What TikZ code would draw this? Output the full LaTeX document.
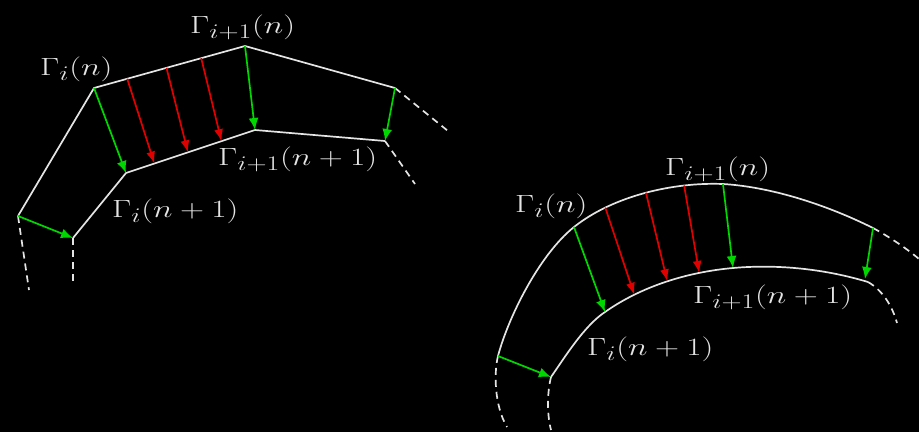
\documentclass[tikz,border=0pt]{standalone}
\usepackage{graphicx}
\usetikzlibrary{arrows.meta,calc}
\definecolor{ln}{RGB}{228,228,228}
\definecolor{gr}{RGB}{0,215,0}
\definecolor{rd}{RGB}{225,0,0}
\newcommand{\wlab}[1]{\scalebox{1.34}[1]{$#1$}}
\begin{document}
\begin{tikzpicture}[x=1pt,y=-1pt,
  curve/.style={draw=ln,line width=1.7pt},
  dsh/.style={draw=ln,line width=1.7pt,dash pattern=on 7pt off 5pt},
  garr/.style={draw=gr,line width=1.7pt,-{Latex[length=12pt,width=10pt]}},
  rarr/.style={draw=rd,line width=1.7pt,-{Latex[length=12pt,width=9pt]}},
  lbl/.style={text=ln,inner sep=0pt,anchor=base west,font=\fontsize{29}{35}\selectfont}]
\fill[black] (0,0) rectangle (919,432);
\useasboundingbox (0,0) rectangle (919,432);
% ---------- left (polygonal) ----------
\coordinate (a0) at (18,216);
\coordinate (a1) at (94,88);
\coordinate (a2) at (245,46);
\coordinate (a3) at (395,88);
\coordinate (b0) at (73,238);
\coordinate (b1) at (126,173);
\coordinate (b2) at (255,130);
\coordinate (b3) at (385,141);
\coordinate (ae) at (448,131);
\coordinate (be) at (415,184);
\coordinate (a0e) at (29,290);
\coordinate (b0e) at (73,285);
\draw[curve] (a0) -- (a1) -- (a2) -- (a3);
\draw[curve] (b0) -- (b1) -- (b2) -- (b3);
\draw[dsh] (a3) -- (ae);
\draw[dsh] (b3) -- (be);
\draw[dsh] (a0) -- (a0e);
\draw[dsh] (b0) -- (b0e);
\draw[garr] (a0) -- (b0);
\draw[garr] (a1) -- (b1);
\draw[garr] (a2) -- (b2);
\draw[garr] (a3) -- (b3);
\draw[rarr] ($(a1)!0.22!(a2)$) -- ($(b1)!0.22!(b2)$);
\draw[rarr] ($(a1)!0.48!(a2)$) -- ($(b1)!0.48!(b2)$);
\draw[rarr] ($(a1)!0.71!(a2)$) -- ($(b1)!0.74!(b2)$);
\node[lbl] (la) at (40,75) {\wlab{\Gamma_{i}(n)}};
\node[lbl] (lb) at (190,33) {\wlab{\Gamma_{i+1}(n)}};
\node[lbl] (lc) at (218,165) {\wlab{\Gamma_{i+1}(n+1)}};
\node[lbl] (ld) at (112,217) {\wlab{\Gamma_{i}(n+1)}};
% ---------- right (smooth) ----------
\coordinate (c0) at (498,356);
\coordinate (c1) at (574,227);
\coordinate (c2) at (723,184);
\coordinate (c3) at (873,228);
\coordinate (d0) at (551,377);
\coordinate (d1) at (605,312);
\coordinate (d2) at (733,268);
\coordinate (d3) at (868,282);
\draw[curve] (c0) .. controls (508,318) and (539,255) .. (c1)
  .. controls (613,196) and (673,182) ..
  coordinate[pos=0.24] (r1) coordinate[pos=0.51] (r2) coordinate[pos=0.75] (r3) (c2)
  .. controls (773,187) and (829,206) .. (c3);
\draw[curve] (d0) .. controls (565,357) and (584,326) .. (d1)
  .. controls (642,286) and (688,272) ..
  coordinate[pos=0.25] (s1) coordinate[pos=0.51] (s2) coordinate[pos=0.75] (s3) (d2)
  .. controls (778,264) and (825,269) .. (d3);
\coordinate (c0e) at (507,427);
\coordinate (d0e) at (551,430);
\coordinate (c3e) at (919,259);
\coordinate (d3e) at (897,323);
\coordinate (d3t) at (865,279);
\draw[dsh] (c0) .. controls (494,372) and (494,405) .. (c0e);
\draw[dsh] (d0) .. controls (547,393) and (547,415) .. (d0e);
\draw[dsh] (c3) .. controls (886,235) and (905,247) .. (c3e);
\draw[dsh] (d3) .. controls (882,290) and (892,305) .. (d3e);
\draw[garr] (c0) -- (d0);
\draw[garr] (c1) -- (d1);
\draw[garr] (c2) -- (d2);
\draw[garr] (c3) -- (d3t);
\draw[rarr] (r1) -- (s1);
\draw[rarr] (r2) -- (s2);
\draw[rarr] (r3) -- (s3);
\node[lbl] (ra) at (515,212) {\wlab{\Gamma_{i}(n)}};
\node[lbl] (rb) at (665,175) {\wlab{\Gamma_{i+1}(n)}};
\node[lbl] (rc) at (693,303) {\wlab{\Gamma_{i+1}(n+1)}};
\node[lbl] (rd) at (587,355) {\wlab{\Gamma_{i}(n+1)}};
\end{tikzpicture}
\end{document}
